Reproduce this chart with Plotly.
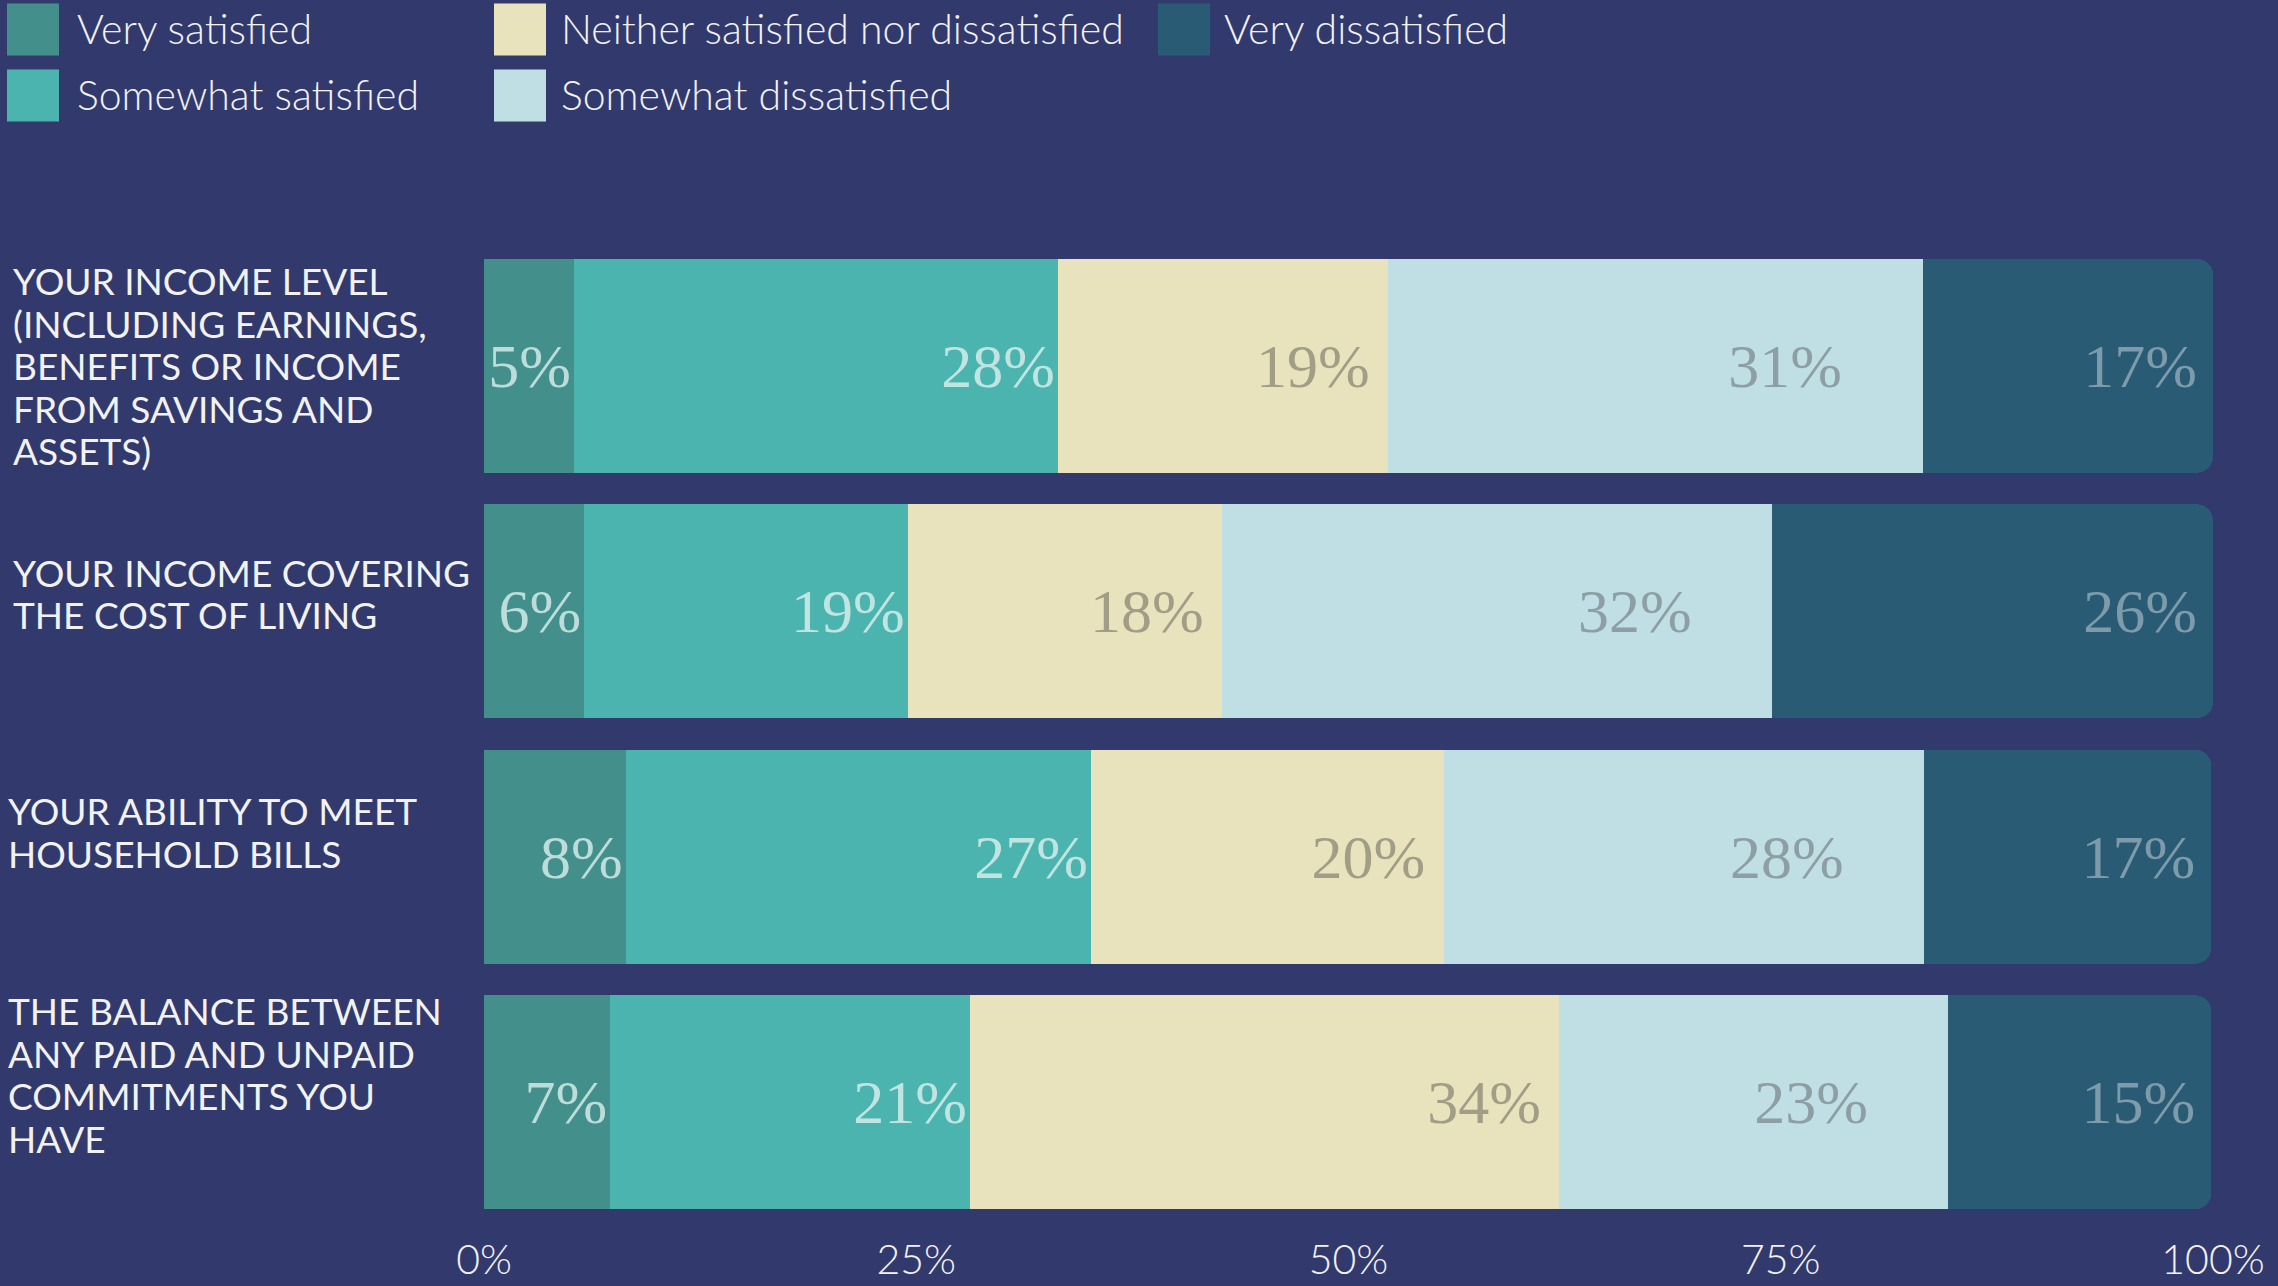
import plotly.graph_objects as go

# ---------------- data ----------------
categories = [
    "YOUR INCOME LEVEL<br>(INCLUDING EARNINGS,<br>BENEFITS OR INCOME<br>FROM SAVINGS AND<br>ASSETS)",
    "YOUR INCOME COVERING<br>THE COST OF LIVING",
    "YOUR ABILITY TO MEET<br>HOUSEHOLD BILLS",
    "THE BALANCE BETWEEN<br>ANY PAID AND UNPAID<br>COMMITMENTS YOU<br>HAVE",
]
series_names = [
    "Very satisfied",
    "Somewhat satisfied",
    "Neither satisfied nor dissatisfied",
    "Somewhat dissatisfied",
    "Very dissatisfied",
]
very_satisfied = [5.2, 5.8, 8.2, 7.3]
somewhat_satisfied = [28.0, 18.7, 26.9, 20.8]
neither = [19.1, 18.2, 20.4, 34.1]
somewhat_dissatisfied = [30.9, 31.8, 27.8, 22.5]
very_dissatisfied = [16.8, 25.5, 16.6, 15.2]

very_satisfied_lbl = ["5%", "6%", "8%", "7%"]
somewhat_satisfied_lbl = ["28%", "19%", "27%", "21%"]
neither_lbl = ["19%", "18%", "20%", "34%"]
somewhat_dissatisfied_lbl = ["31%", "32%", "28%", "23%"]
very_dissatisfied_lbl = ["17%", "26%", "17%", "15%"]

tick_vals = [0, 25, 50, 75, 100]
tick_text = ["0%", "25%", "50%", "75%", "100%"]

# ---------------- style ----------------
BG = "#323A6D"
colors = ["#428F8B", "#4CB4AE", "#E8E3BD", "#C0DFE4", "#2A5B74"]
text_colors = ["#BCDDDA", "#BFE4E2", "#A29D86", "#8D9FA4", "#7D9BAA"]
trail = ["", "", "\u00a0", "\u00a0\u00a0\u00a0\u00a0\u00a0", ""]

W, H = 2278, 1286
L, R, T, B = 484, 65, 243, 61
PW, PH = W - L - R, H - T - B


def px_x(px):
    return (px - L) / PW


def px_y(py):
    return (H - B - py) / PH


values = [very_satisfied, somewhat_satisfied, neither, somewhat_dissatisfied, very_dissatisfied]
labels = [very_satisfied_lbl, somewhat_satisfied_lbl, neither_lbl,
          somewhat_dissatisfied_lbl, very_dissatisfied_lbl]

fig = go.Figure()
ycats = list(range(len(categories)))
for i, name in enumerate(series_names):
    fig.add_trace(go.Bar(
        name=name,
        y=ycats,
        x=values[i],
        orientation="h",
        marker=dict(color=colors[i], line=dict(width=0)),
        text=[t + trail[i] for t in labels[i]],
        textposition="inside",
        insidetextanchor="end",
        constraintext="none",
        textangle=0,
        textfont=dict(family="Liberation Serif", size=62, color=text_colors[i]),
        hoverinfo="skip",
        showlegend=False,
    ))

annotations = []
# category labels: one annotation per line for tighter line spacing
label_x = [11, 11, 6, 6]
label_shift = [0, 18, 25, 28]
LINE = 42.5
for i, c in enumerate(categories):
    lines = c.split("<br>")
    n = len(lines)
    for k, line in enumerate(lines):
        annotations.append(dict(
            x=px_x(label_x[i]), xref="paper", y=i, yref="y",
            text=line, showarrow=False, xanchor="left", yanchor="middle", align="left",
            yshift=label_shift[i] - (k - (n - 1) / 2) * LINE,
            font=dict(family="Lato", size=37, color="#F2F2F2"),
        ))

# manual legend (column-major layout)
legend_pos = [  # (swatch_x, text_x, row_center_y)
    (7, 75, 29.5),
    (7, 75, 95.5),
    (494, 559, 29.5),
    (494, 559, 95.5),
    (1158, 1222, 29.5),
]
shapes = []
for i, name in enumerate(series_names):
    sx, tx, cy = legend_pos[i]
    shapes.append(dict(
        type="rect", xref="paper", yref="paper",
        x0=px_x(sx), x1=px_x(sx + 52), y0=px_y(cy + 26), y1=px_y(cy - 26),
        fillcolor=colors[i], line=dict(width=0), layer="above",
    ))
    annotations.append(dict(
        x=px_x(tx), xref="paper", y=px_y(cy - 1), yref="paper",
        text=name, showarrow=False, xanchor="left", yanchor="middle",
        font=dict(family="Lato", size=41, weight=300, color="#F2F2F2"),
    ))

fig.update_layout(
    barmode="stack",
    bargap=0.129,
    barcornerradius=16,
    width=W, height=H,
    margin=dict(l=L, r=R, t=T, b=B, pad=0, autoexpand=False),
    paper_bgcolor=BG,
    plot_bgcolor=BG,
    showlegend=False,
    annotations=annotations,
    shapes=shapes,
    xaxis=dict(
        range=[0, 100], tickvals=tick_vals, ticktext=tick_text,
        showgrid=False, zeroline=False, showline=False, ticks="",
        tickfont=dict(family="Lato", size=41, weight=300, color="#F2F2F2"),
        ticklabelstandoff=7,
        automargin=False,
        fixedrange=True,
    ),
    yaxis=dict(
        autorange="reversed", showticklabels=False, showgrid=False,
        zeroline=False, showline=False, ticks="", fixedrange=True,
        automargin=False,
    ),
)

fig.write_html(
    "out.html",
    config={"displayModeBar": False},
    post_script="document.body.style.margin='0';document.body.style.overflow='hidden';"
                "document.body.style.background='" + BG + "';",
)
